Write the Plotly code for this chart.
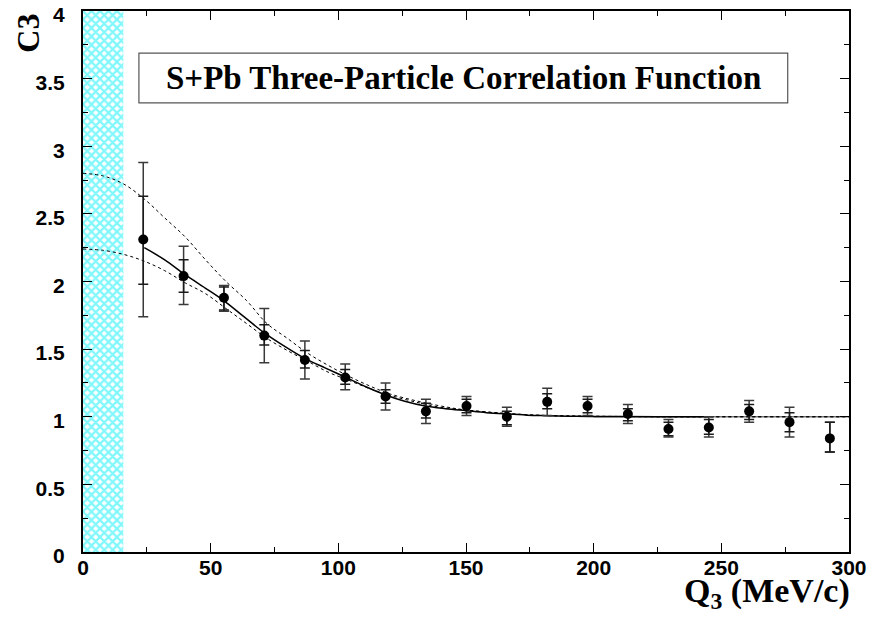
import plotly.graph_objects as go

# measured three-particle correlation points
q3 = [23.6, 39.4, 55.2, 71.0, 86.9, 102.7, 118.5, 134.3, 150.2, 166.0,
      181.8, 197.6, 213.4, 229.3, 245.1, 260.9, 276.7, 292.5]
c3 = [2.31, 2.04, 1.88, 1.60, 1.42, 1.29, 1.15, 1.04, 1.08, 1.00,
      1.11, 1.08, 1.02, 0.91, 0.92, 1.04, 0.96, 0.84]
c3_tot_hi = [2.88, 2.26, 1.97, 1.80, 1.56, 1.39, 1.25, 1.13, 1.15, 1.07,
             1.21, 1.15, 1.09, 0.98, 1.00, 1.12, 1.07, 0.96]
c3_tot_lo = [1.74, 1.83, 1.78, 1.40, 1.28, 1.20, 1.05, 0.95, 1.01, 0.93,
             1.01, 1.01, 0.95, 0.85, 0.85, 0.96, 0.85, 0.74]
c3_stat_hi = [2.63, 2.16, 1.96, 1.68, 1.49, 1.35, 1.20, 1.10, 1.13, 1.04,
              1.17, 1.13, 1.06, 0.96, 0.98, 1.09, 1.03, 0.96]
c3_stat_lo = [1.98, 1.92, 1.79, 1.53, 1.36, 1.24, 1.10, 0.99, 1.03, 0.94,
              1.06, 1.03, 0.97, 0.86, 0.87, 0.98, 0.89, 0.74]

# fit curve (solid)
fit_q = [24, 32, 40, 48, 55, 63, 71, 79, 87, 95, 103, 111, 118, 126, 134,
         142, 150, 158, 166, 174, 181, 190, 198, 210, 225, 245]
fit_c3 = [2.25, 2.16, 2.05, 1.95, 1.86, 1.74, 1.62, 1.52, 1.43, 1.36, 1.29,
          1.22, 1.165, 1.115, 1.08, 1.06, 1.045, 1.03, 1.02, 1.012, 1.008,
          1.004, 1.002, 1.001, 1.0, 1.0]

# dashed band curves
band_q = [0, 8, 16, 24, 32, 40, 48, 56, 64, 72, 80, 88, 96, 104, 112, 120,
          130, 140, 150, 165, 180, 200, 230, 260, 300]
band_hi = [2.80, 2.78, 2.72, 2.61, 2.47, 2.33, 2.16, 2.00, 1.86, 1.69, 1.58,
           1.47, 1.38, 1.30, 1.23, 1.17, 1.12, 1.08, 1.05, 1.025, 1.01,
           1.004, 1.0, 1.0, 1.0]
band_lo = [2.24, 2.23, 2.20, 2.15, 2.08, 1.99, 1.91, 1.80, 1.69, 1.58, 1.49,
           1.41, 1.33, 1.27, 1.21, 1.16, 1.11, 1.07, 1.05, 1.025, 1.01,
           1.003, 1.0, 1.0, 1.0]

# baseline at 1
base_q = [200, 300]
base_c3 = [1.0, 1.0]

# excluded low-Q region
cut_q = [0, 15.8]
cut_c3 = [0, 4]

x_ticks = [0, 50, 100, 150, 200, 250, 300]
y_ticks = [0, 0.5, 1, 1.5, 2, 2.5, 3, 3.5, 4]


def errs(hi, lo, y):
    return [h - v for h, v in zip(hi, y)], [v - l for v, l in zip(y, lo)]


tot_up, tot_dn = errs(c3_tot_hi, c3_tot_lo, c3)
stat_up, stat_dn = errs(c3_stat_hi, c3_stat_lo, c3)

fig = go.Figure()

fig.add_trace(go.Scatter(
    x=[cut_q[0], cut_q[1], cut_q[1], cut_q[0], cut_q[0]],
    y=[cut_c3[0], cut_c3[0], cut_c3[1], cut_c3[1], cut_c3[0]],
    mode='none', fill='toself', fillcolor='rgba(0,0,0,0)',
    fillpattern=dict(shape='x', fgcolor='#00f0f8', bgcolor='white',
                     size=6, solidity=0.6),
    hoverinfo='skip', showlegend=False
))

fig.add_trace(go.Scatter(
    x=base_q, y=base_c3, mode='lines',
    line=dict(color='#777777', width=1.5), showlegend=False
))

for yy in (band_hi, band_lo):
    fig.add_trace(go.Scatter(
        x=band_q, y=yy, mode='lines', line_shape='spline',
        line=dict(color='black', width=1, dash='3px,3px'), showlegend=False
    ))

fig.add_trace(go.Scatter(
    x=fit_q, y=fit_c3, mode='lines', line_shape='spline',
    line=dict(color='black', width=1.5), showlegend=False
))

fig.add_trace(go.Scatter(
    x=q3, y=c3, mode='markers',
    marker=dict(color='rgba(0,0,0,0)', size=1),
    error_y=dict(type='data', symmetric=False, array=tot_up,
                 arrayminus=tot_dn, color='#3a3a3a', thickness=1.5, width=5),
    showlegend=False
))

fig.add_trace(go.Scatter(
    x=q3, y=c3, mode='markers',
    marker=dict(color='black', size=10),
    error_y=dict(type='data', symmetric=False, array=stat_up,
                 arrayminus=stat_dn, color='#1a1a1a', thickness=1.5, width=5),
    showlegend=False
))

tick_font = dict(family='Liberation Sans', size=21, color='black', weight=700)

fig.update_xaxes(
    range=[0, 300], tickvals=x_ticks,
    ticktext=['<b>%g</b>' % v for v in x_ticks],
    ticks='inside', ticklen=9, automargin=False,
    tickwidth=1.2, tickcolor='black', showline=True, linecolor='black',
    linewidth=2, mirror='allticks', showgrid=False, zeroline=False,
    tickfont=tick_font, ticklabelstandoff=-4, ticklabeloverflow='allow',
    minor=dict(dtick=25, tick0=0, ticks='inside', ticklen=5,
               tickcolor='black', showgrid=False)
)
fig.update_yaxes(
    range=[0, 4], tickvals=y_ticks,
    ticktext=['<b>%g</b>' % v for v in y_ticks],
    ticks='inside', ticklen=9, automargin=False,
    tickwidth=1.2, tickcolor='black', showline=True, linecolor='black',
    linewidth=2, mirror='allticks', showgrid=False, zeroline=False,
    tickfont=tick_font, ticklabelstandoff=12, ticklabelshift=4,
    ticklabeloverflow='allow',
    minor=dict(dtick=0.25, tick0=0, ticks='inside', ticklen=5,
               tickcolor='black', showgrid=False)
)

# page body adds an 8px offset, so margins are shifted to compensate
fig.update_layout(
    width=877, height=619,
    margin=dict(l=75, r=36, t=3, b=75),
    paper_bgcolor='white', plot_bgcolor='white',
    shapes=[dict(type='rect', xref='paper', yref='paper',
                 x0=0.073, x1=0.920, y0=0.830, y1=0.922,
                 line=dict(color='#555555', width=1.2), fillcolor='white')],
    annotations=[
        dict(text='<b>S+Pb Three-Particle Correlation Function</b>',
             xref='paper', yref='paper', x=0.4965, y=0.876,
             xanchor='center', yanchor='middle', showarrow=False,
             font=dict(family='Liberation Serif', size=33, color='black',
                       weight=700)),
        dict(text='<b>C3</b>', xref='paper', yref='paper', x=-0.0718, y=0.958,
             xanchor='center', yanchor='middle', textangle=-90,
             showarrow=False,
             font=dict(family='Liberation Serif', size=32, color='black',
                       weight=700)),
        dict(text='<b>Q<sub>3</sub> (MeV/c)</b>', xref='paper', yref='paper',
             x=1.004, y=-0.033, xanchor='right', yanchor='top',
             showarrow=False,
             font=dict(family='Liberation Serif', size=34, color='black',
                       weight=700)),
    ]
)

fig.write_html("out.html")
